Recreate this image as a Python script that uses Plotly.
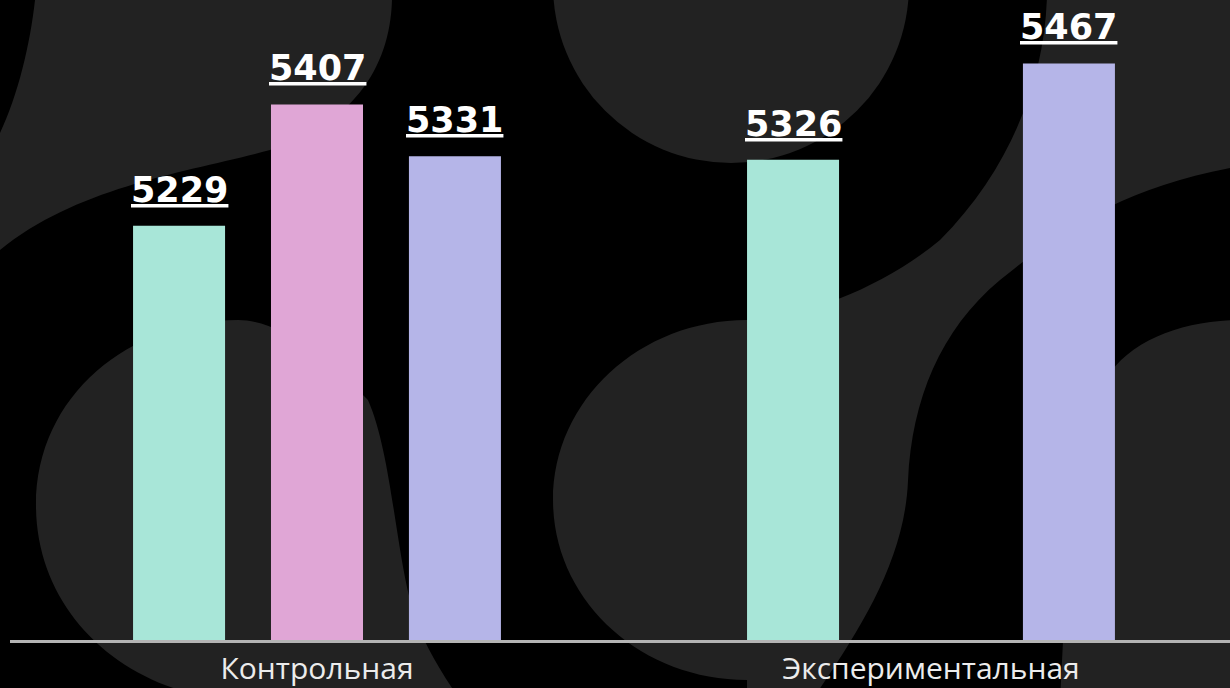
import plotly.graph_objects as go

# --- data -------------------------------------------------------------
groups = ["Контрольная", "Экспериментальная"]
series_names = ["Серия 1", "Серия 2", "Серия 3"]
series_values = [
    [5229, 5326],   # mint
    [5407, None],   # pink (no value for the second group)
    [5331, 5467],   # lavender
]
series_colors = ["#a8e6d8", "#e0a6d6", "#b5b5e8"]

# --- layout parameters ---------------------------------------------------
W, H = 1230, 688
M_L, M_R, M_T, M_B = 10, 0, 0, 48
BARGAP = 0.326
BARGROUPGAP = 0.333
Y_RANGE = [4622, 5560]
X_RANGE = [-0.5, 1.487]
BLOB = "#222222"

plot_w = W - M_L - M_R
plot_h = H - M_T - M_B


def px(x, y):
    """pixel position on the page -> paper fraction"""
    return (x - M_L) / plot_w, 1 - (y - M_T) / plot_h


def path(cmds):
    out = []
    for c in cmds:
        op, pts = c[0], c[1:]
        coords = []
        for i in range(0, len(pts), 2):
            X, Y = px(pts[i], pts[i + 1])
            coords.append(f"{X:.4f},{Y:.4f}")
        out.append(op + " " + " ".join(coords))
    return " ".join(out) + " Z"


# decorative background blobs
blob_paths = [
    # top-left S shape
    path([("M", 35, 0), ("L", 392, 0),
          ("C", 390, 70, 350, 125, 270, 150),
          ("C", 190, 172, 80, 185, 0, 250),
          ("L", 0, 133),
          ("C", 18, 95, 30, 45, 35, 0)]),
    # lower-left drop
    path([("M", 36, 505),
          ("C", 36, 395, 130, 320, 238, 320),
          ("C", 280, 320, 330, 360, 368, 400),
          ("C", 390, 450, 395, 540, 410, 600),
          ("C", 420, 640, 440, 670, 460, 700),
          ("L", 230, 700),
          ("C", 120, 690, 36, 610, 36, 505)]),
    # central band flowing from the top right into the round middle
    path([("M", 1047, -5),
          ("C", 1045, 80, 1010, 170, 940, 240),
          ("C", 880, 290, 800, 318, 747, 320),
          ("C", 640, 320, 553, 400, 553, 500),
          ("C", 553, 600, 640, 680, 747, 680),
          ("L", 747, 700), ("L", 812, 700),
          ("C", 860, 630, 905, 560, 908, 480),
          ("C", 912, 400, 940, 330, 1000, 280),
          ("C", 1050, 240, 1110, 190, 1235, 167),
          ("L", 1235, -5)]),
    # lower-right piece
    path([("M", 1235, 320),
          ("C", 1180, 322, 1130, 340, 1105, 380),
          ("C", 1080, 420, 1070, 520, 1065, 600),
          ("L", 1060, 700), ("L", 1235, 700)]),
]

shapes = [dict(type="path", xref="paper", yref="paper", path=p,
               fillcolor=BLOB, line=dict(width=0), layer="below")
          for p in blob_paths]

# top-centre disc
cx0, cy0 = px(731 - 178, -15 - 178)
cx1, cy1 = px(731 + 178, -15 + 178)
shapes.append(dict(type="circle", xref="paper", yref="paper",
                   x0=cx0, x1=cx1, y0=cy0, y1=cy1,
                   fillcolor=BLOB, line=dict(width=0), layer="below"))

fig = go.Figure()
for name, vals, col in zip(series_names, series_values, series_colors):
    fig.add_trace(go.Bar(
        x=groups, y=vals, name=name,
        marker=dict(color=col, line=dict(width=0)),
        hoverinfo="skip",
    ))

# value labels above each bar
n = len(series_values)
slot = (1 - BARGAP) / n
annotations = []
for s, vals in enumerate(series_values):
    for g, v in enumerate(vals):
        if v is None:
            continue
        annotations.append(dict(
            x=g + (s - (n - 1) / 2) * slot, y=v, xref="x", yref="y",
            text=f"<u><b>{v}</b></u>", showarrow=False,
            yanchor="bottom", xanchor="center", yshift=14,
            font=dict(family="DejaVu Sans, sans-serif", size=35,
                      color="#ffffff", weight=900),
        ))

fig.update_layout(
    width=W, height=H,
    margin=dict(l=M_L, r=M_R, t=M_T, b=M_B, pad=0, autoexpand=False),
    paper_bgcolor="#000000",
    plot_bgcolor="rgba(0,0,0,0)",
    barmode="group", bargap=BARGAP, bargroupgap=BARGROUPGAP,
    showlegend=False,
    shapes=shapes,
    annotations=annotations,
    xaxis=dict(
        type="category", range=X_RANGE, automargin=False,
        showline=True, linecolor="#b4b4b4", linewidth=3,
        showgrid=False, zeroline=False, ticks="",
        tickfont=dict(family="Open Sans, sans-serif", size=30, color="#ececec"),
        fixedrange=True,
    ),
    yaxis=dict(range=Y_RANGE, visible=False, fixedrange=True),
)

fig.write_html("out.html", config=dict(displayModeBar=False))
